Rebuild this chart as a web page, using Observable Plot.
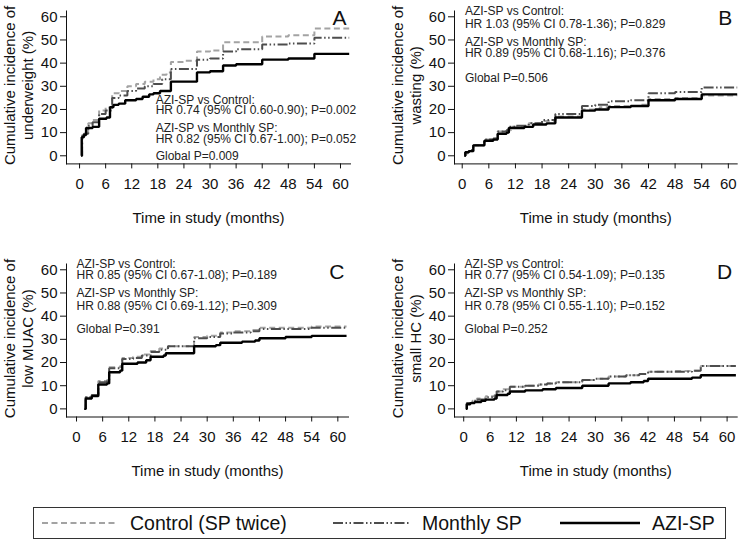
<!DOCTYPE html>
<html>
<head>
<meta charset="utf-8">
<script src="https://cdn.jsdelivr.net/npm/d3@7"></script>
<script src="https://cdn.jsdelivr.net/npm/@observablehq/plot@0.6"></script>
<style>
  html, body { margin: 0; padding: 0; background: #fff; }
  #wrap { position: relative; width: 750px; height: 546px; overflow: hidden; background: #fff;
          font-family: "Liberation Sans", Arial, sans-serif; }
  .panel { position: absolute; }
  #legend { position: absolute; left: 33px; top: 507px; width: 693px; height: 32px;
            border: 1px solid #333; box-sizing: border-box; }
  #legend .item { position: absolute; top: 0; height: 30px; display: flex; align-items: center; }
  #legend .lab { font-size: 19.5px; color: #111; margin-left: 12px; white-space: nowrap; }
</style>
</head>
<body>
<div id="wrap">
  <div class="panel" id="pA" style="left:0;top:0"></div>
  <div class="panel" id="pB" style="left:375px;top:0"></div>
  <div class="panel" id="pC" style="left:0;top:240px"></div>
  <div class="panel" id="pD" style="left:375px;top:240px"></div>
  <div id="legend"></div>
</div>
<script>
// ---------- tick labels & series ----------
const xTickValues = [0, 6, 12, 18, 24, 30, 36, 42, 48, 54, 60];
const yTickValues = [0, 10, 20, 30, 40, 50, 60];
const seriesNames = ["Control (SP twice)", "Monthly SP", "AZI-SP"];
const xTitle = "Time in study (months)";
const yTitleLine1 = "Cumulative incidence of";
const panelLetters = ["A", "B", "C", "D"];
const yTitleLine2 = ["underweight (%)", "wasting (%)", "low MUAC (%)", "small HC (%)"];

// ---------- Panel A: underweight ----------
const A_control_t = [0.4, 0.6, 1, 2, 3, 4.5, 6, 7.5, 9, 11, 13, 15, 17, 18.5, 20, 21, 24, 27, 30, 33, 36, 42, 48, 54, 62];
const A_control_v = [0, 9, 10.5, 14, 15.5, 19.5, 21, 27, 28, 30, 31, 32, 33, 35, 36, 40.5, 41, 45, 45.5, 49, 49, 51.5, 52, 55, 55];
const A_monthly_t = [0.4, 0.6, 1, 2, 3, 4.5, 6, 7.5, 9, 11, 13, 15, 17, 19, 21, 24, 27, 30, 33, 36, 42, 48, 54, 62];
const A_monthly_v = [0, 8.5, 9.5, 13, 14.5, 18, 19.5, 25, 26, 28, 29, 30, 31, 33, 37.5, 37.5, 41.5, 42, 45, 46, 48, 48.5, 51, 51];
const A_azi_t = [0.4, 0.5, 1, 1.5, 3, 4.5, 6.2, 7, 7.8, 9, 10.5, 13, 14.5, 16, 17, 18.5, 21, 27, 30, 33, 36, 42, 48, 54, 62];
const A_azi_v = [0, 8, 9, 12, 12.5, 16, 16.5, 21, 22, 22.5, 24, 24.5, 25.5, 26.5, 27, 28, 32, 36, 36.5, 39, 39.5, 41.5, 42, 44, 44];
const A_notes = ["AZI-SP vs Control:", "HR 0.74 (95% CI 0.60-0.90); P=0.002",
                 "AZI-SP vs Monthly SP:", "HR 0.82 (95% CI 0.67-1.00); P=0.052", "Global P=0.009"];

// ---------- Panel B: wasting ----------
const B_control_t = [0.5, 0.7, 1.5, 2.5, 5, 7, 8, 10, 11, 15, 18, 21, 27, 31, 33, 40, 42, 48, 54, 62];
const B_control_v = [0, 1, 2, 4.5, 7, 7.5, 10.5, 11, 12.5, 14, 15, 17, 20, 21, 21.5, 22, 24.5, 25, 26, 26];
const B_monthly_t = [0.5, 0.7, 1.5, 2.5, 5, 7, 8, 10, 10.5, 12, 15, 18, 21, 27, 30, 33, 38, 42, 48, 54, 62];
const B_monthly_v = [0, 1.5, 2.5, 4.5, 7, 7.5, 10.5, 11, 12.5, 13, 14, 15.5, 18, 21.5, 22, 23.5, 24, 27, 27.5, 29.5, 29.5];
const B_azi_t = [0.5, 0.7, 1.5, 2.5, 5, 7, 8, 10, 10.5, 14, 16, 19, 21, 27, 30, 33, 38, 42, 48, 54, 62];
const B_azi_v = [0, 1.5, 2, 4.5, 6.5, 7, 9.5, 10, 12, 12.5, 13.5, 14, 16.5, 19.5, 20, 21, 21.5, 24, 24.5, 26.5, 26.5];
const B_notes = ["AZI-SP vs Control:", "HR 1.03 (95% CI 0.78-1.36); P=0.829",
                 "AZI-SP vs Monthly SP:", "HR 0.89 (95% CI 0.68-1.16); P=0.376", "Global P=0.506"];

// ---------- Panel C: low MUAC ----------
const C_control_t = [1.8, 2.1, 3.5, 5, 7, 7.5, 10, 10.5, 13, 15, 17, 19, 21, 27, 30, 33, 36, 40, 42, 48, 54, 62];
const C_control_v = [0, 5, 6, 12, 12.5, 18, 18.5, 22, 22.5, 23.5, 25, 26, 27, 31, 31.5, 33, 33.5, 34, 35, 35, 35.5, 35.5];
const C_monthly_t = [1.8, 2.1, 3.5, 5, 7, 7.5, 10, 10.5, 13, 15, 17, 19, 21, 27, 30, 33, 36, 40, 42, 48, 54, 62];
const C_monthly_v = [0, 5, 6, 11.5, 12, 17.5, 18, 21.5, 22, 23, 24.5, 25.5, 27, 30.5, 31, 32.5, 33, 33.5, 34.5, 34.5, 35, 35];
const C_azi_t = [1.8, 2.1, 3.5, 5, 7, 7.5, 10, 10.5, 14, 16, 17, 20, 20.5, 27, 32, 33, 38, 41, 42, 48, 54, 62];
const C_azi_v = [0, 4.5, 5.5, 10.5, 11, 15.8, 16.5, 19.5, 20, 21, 22.5, 23, 24, 27, 27.5, 28.5, 29, 29.5, 30.5, 31, 31.5, 31.5];
const C_notes = ["AZI-SP vs Control:", "HR 0.85 (95% CI 0.67-1.08); P=0.189",
                 "AZI-SP vs Monthly SP:", "HR 0.88 (95% CI 0.69-1.12); P=0.309", "Global P=0.391"];

// ---------- Panel D: small HC ----------
const D_control_t = [0.5, 0.7, 2, 3, 5, 7, 7.5, 9, 10.5, 14, 17, 19, 21, 26, 27, 30, 33, 37, 40, 42, 48, 52, 54, 62];
const D_control_v = [0, 2.5, 3.5, 4.5, 5.5, 6, 7.5, 8.5, 9.5, 10, 10.5, 11, 11.5, 11.5, 12.5, 13, 14, 14.5, 15, 16, 16.3, 16.5, 18.5, 18.5];
const D_monthly_t = [0.5, 0.7, 2, 3, 5, 7, 7.5, 9, 10.5, 14, 17, 19, 21, 26, 27, 30, 33, 37, 40, 42, 48, 52, 54, 62];
const D_monthly_v = [0, 2.5, 3.5, 4, 5, 5.5, 7.5, 8, 9.5, 10, 10.5, 11, 11.5, 11.5, 12.5, 13, 14, 14.5, 15, 16, 16, 16.5, 18.5, 18.5];
const D_azi_t = [0.5, 0.7, 1.5, 2.5, 4, 5, 7, 7.5, 10, 10.5, 14, 18, 21, 27, 30, 33, 38, 41, 42, 48, 52, 54, 62];
const D_azi_v = [0, 2, 2.5, 3, 3.5, 4, 4.5, 6, 6.5, 7.5, 8, 8.5, 9, 10, 10, 11, 11.5, 12, 13, 13, 13.5, 14.5, 14.5];
const D_notes = ["AZI-SP vs Control:", "HR 0.77 (95% CI 0.54-1.09); P=0.135",
                 "AZI-SP vs Monthly SP:", "HR 0.78 (95% CI 0.55-1.10); P=0.152", "Global P=0.252"];

// ---------- styles ----------
const seriesStyle = [
  {stroke: "#a3a3a3", strokeWidth: 2, strokeDasharray: "6,3.5"},
  {stroke: "#4d4d4d", strokeWidth: 2, strokeDasharray: "10,2.5,1.5,2.5,1.5,2.5"},
  {stroke: "#000000", strokeWidth: 2.4, strokeDasharray: null}
];

const rows = (t, v) => t.map((x, i) => ({x, y: v[i]}));

const panels = [
  {id: "pA", series: [[A_control_t, A_control_v], [A_monthly_t, A_monthly_v], [A_azi_t, A_azi_v]], notes: A_notes,
   noteX: 17.5, noteY: [24.2, 19.6, 11.9, 7.3, 0], top: true, left: true},
  {id: "pB", series: [[B_control_t, B_control_v], [B_monthly_t, B_monthly_v], [B_azi_t, B_azi_v]], notes: B_notes,
   noteX: 0.6, noteY: [62.3, 56.9, 49.2, 44.3, 33.7], top: true, left: false},
  {id: "pC", series: [[C_control_t, C_control_v], [C_monthly_t, C_monthly_v], [C_azi_t, C_azi_v]], notes: C_notes,
   noteX: 0, noteY: [62.3, 57.6, 49.8, 44.5, 34.2], top: false, left: true},
  {id: "pD", series: [[D_control_t, D_control_v], [D_monthly_t, D_monthly_v], [D_azi_t, D_azi_v]], notes: D_notes,
   noteX: 0.2, noteY: [62.3, 57.6, 49.8, 44.5, 34.2], top: false, left: false}
];

panels.forEach((p, k) => {
  const height = p.top ? 240 : 260;
  const marginTop = p.top ? 10.5 : 23.5;
  const marginBottom = p.top ? 76.6 : 83.5;
  const marginLeft = p.left ? 66 : 79;
  const marginRight = p.left ? (k === 0 ? 25 : 27) : 13.3;
  const frameH = height - marginTop - marginBottom;
  const xDomain = p.left ? (k === 0 ? [-3, 62.3] : [-2.3, 62.45]) : (k === 1 ? [-1.74, 62] : [-2.1, 62.3]);
  const noteData = p.notes.map((t, i) => ({text: t, x: p.noteX, y: p.noteY[i]}));
  const marks = [];
  p.series.forEach(([t, v], i) => {
    const st = seriesStyle[i];
    marks.push(Plot.line(rows(t, v), {x: "x", y: "y", curve: "step-after",
      stroke: st.stroke, strokeWidth: st.strokeWidth, strokeDasharray: st.strokeDasharray,
      strokeLinejoin: "miter", strokeLinecap: "butt"}));
  });
  marks.push(Plot.text(noteData, {x: "x", y: "y", text: "text", textAnchor: "start", lineAnchor: "middle",
    fontSize: 12, fill: "#222"}));
  marks.push(Plot.text([panelLetters[k]], {frameAnchor: "top-right", text: d => d, dx: p.left ? -4 : -5, dy: p.top ? 7.5 : 8.5,
    textAnchor: "end", lineAnchor: "middle", fontSize: 21, fill: "#111"}));
  marks.push(Plot.text([yTitleLine1], {frameAnchor: "top-left", text: d => d, rotate: -90, dx: -56, dy: frameH / 2 - 2,
    textAnchor: "middle", fontSize: 15, lineAnchor: "middle", fill: "#111"}));
  marks.push(Plot.text([yTitleLine2[k]], {frameAnchor: "top-left", text: d => d, rotate: -90, dx: -38, dy: frameH / 2 - 2,
    textAnchor: "middle", fontSize: 15, lineAnchor: "middle", fill: "#111"}));
  marks.push(Plot.text([xTitle], {frameAnchor: "bottom", text: d => d, dy: 54.6, fontSize: 15, lineAnchor: "middle", fill: "#111"}));
  const chart = Plot.plot({
    width: 375, height, marginTop, marginBottom, marginLeft, marginRight,
    style: {fontFamily: "'Liberation Sans', Arial, sans-serif", fontSize: "15px", color: "#111", background: "transparent", overflow: "visible"},
    x: {domain: xDomain, ticks: xTickValues, tickSize: 5, tickPadding: 9, label: null, line: true},
    y: {domain: [-3.5, 62.5], ticks: yTickValues, tickSize: 6, tickPadding: 3, label: null, line: true},
    marks
  });
  document.getElementById(p.id).appendChild(chart);
});

// ---------- legend ----------
const legend = document.getElementById("legend");
const legendPos = [{left: 8, w: 76}, {left: 299, w: 77}, {left: 526, w: 80}];
seriesNames.forEach((name, i) => {
  const st = seriesStyle[i];
  const item = document.createElement("div");
  item.className = "item";
  item.style.left = legendPos[i].left + "px";
  const w = legendPos[i].w;
  item.innerHTML = `<svg width="${w}" height="30"><line x1="0" x2="${w}" y1="15" y2="15" stroke="${st.stroke}" stroke-width="${st.strokeWidth}" ${st.strokeDasharray ? `stroke-dasharray="${st.strokeDasharray}"` : ""}/></svg><span class="lab">${name}</span>`;
  legend.appendChild(item);
});
</script>
</body>
</html>
